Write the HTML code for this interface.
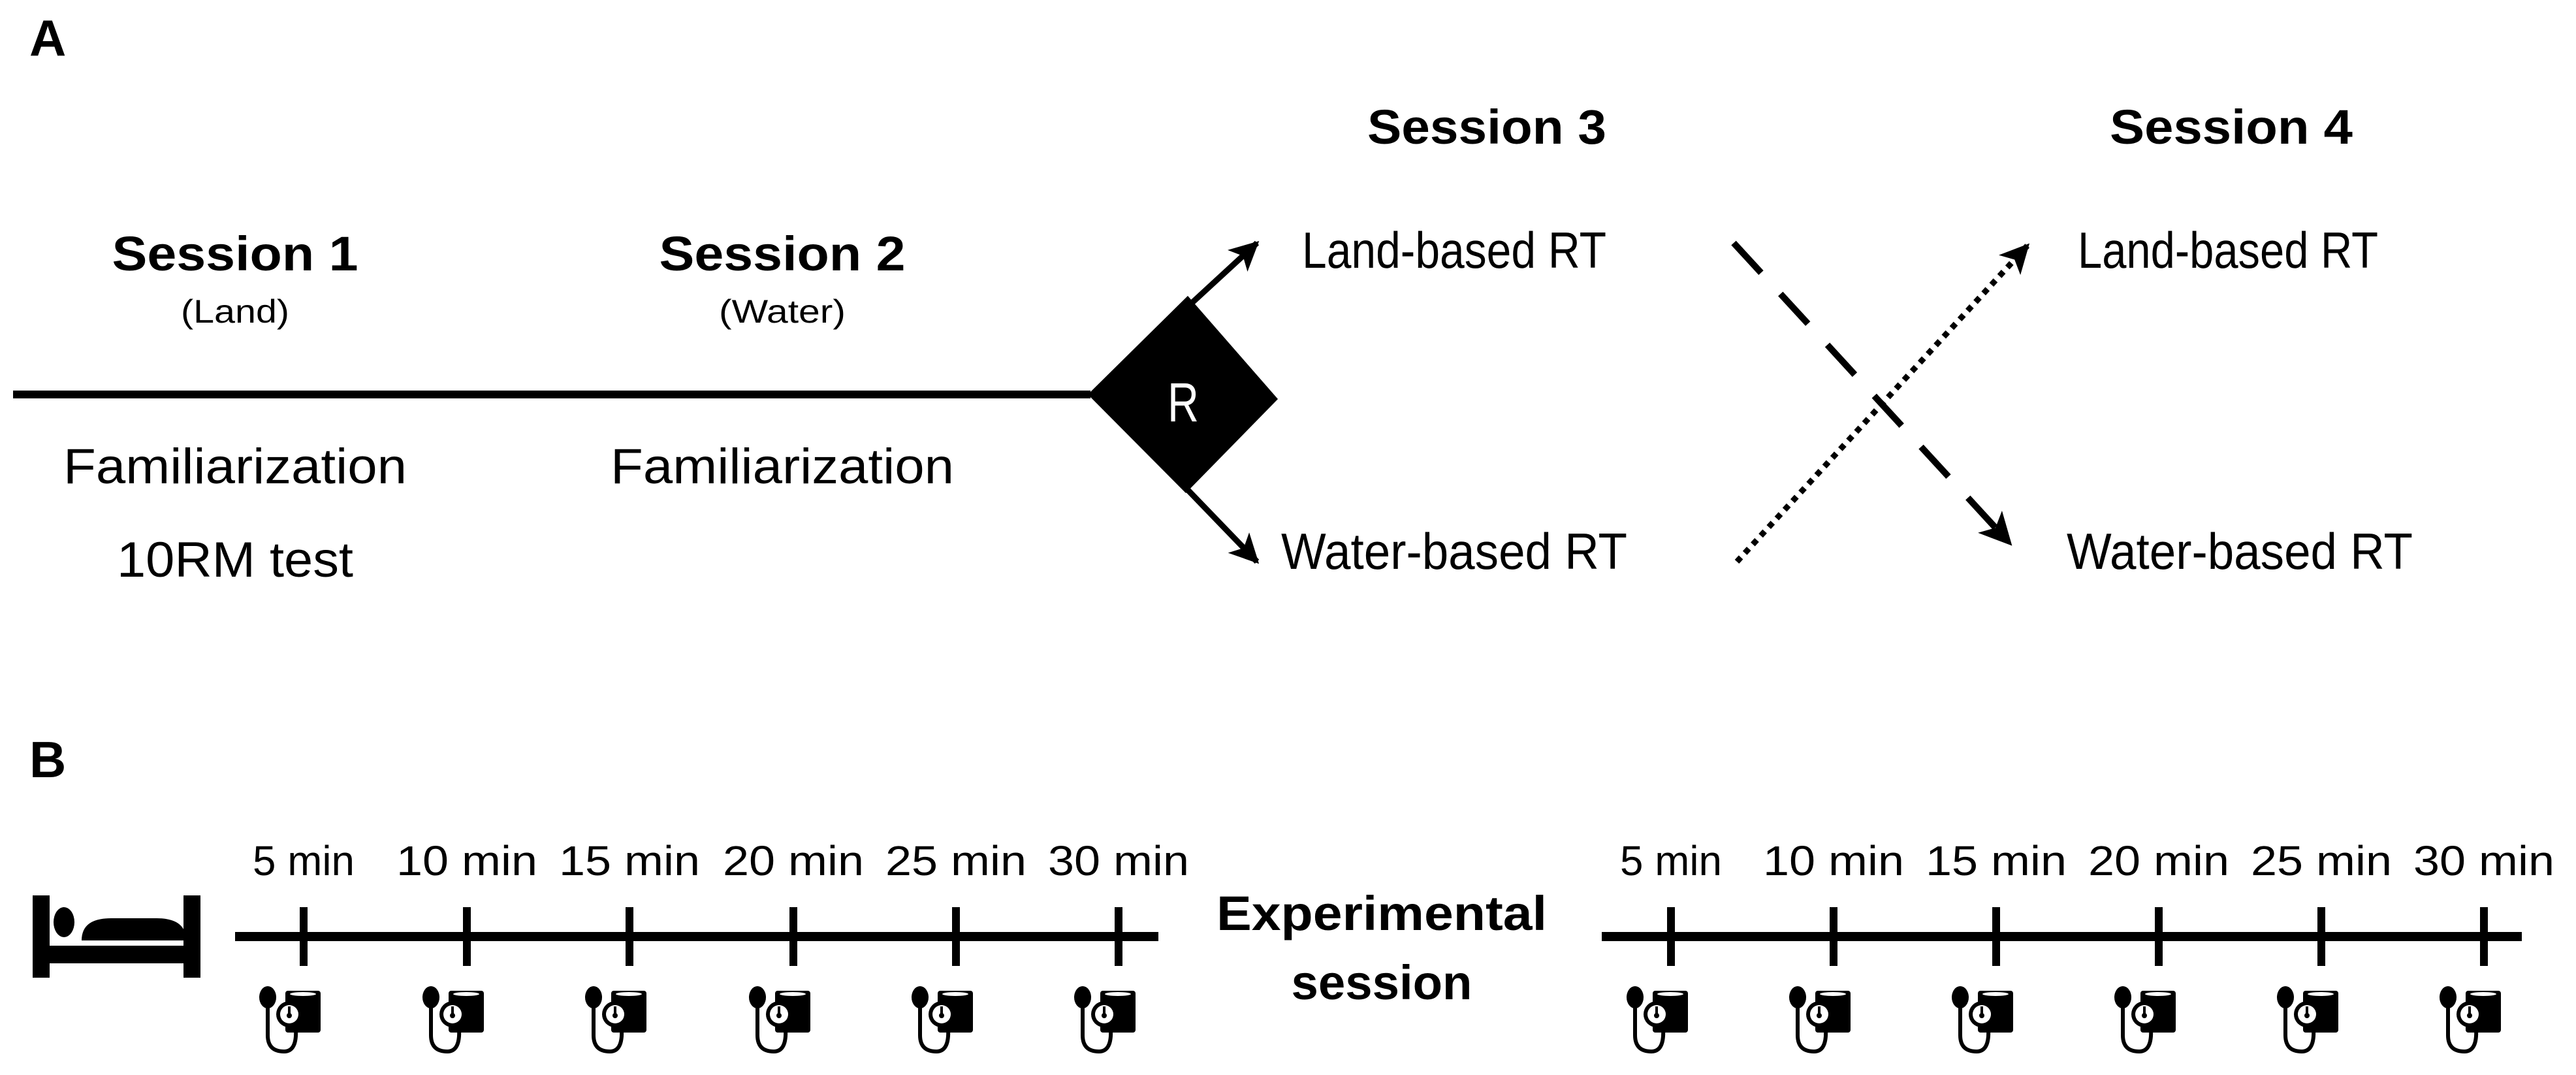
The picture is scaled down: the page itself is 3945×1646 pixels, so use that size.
<!DOCTYPE html>
<html><head><meta charset="utf-8"><style>
html,body{margin:0;padding:0;background:#fff}
svg{display:block}
text{font-family:"Liberation Sans",Arial,sans-serif;fill:#000}
</style></head><body>
<svg width="3945" height="1646" viewBox="0 0 3945 1646" xmlns="http://www.w3.org/2000/svg">
<defs>
<marker id="ah" viewBox="0 0 10 10" refX="9" refY="5" markerWidth="5" markerHeight="5" orient="auto" markerUnits="strokeWidth">
<path d="M0,0 L10,5 L0,10 L2.5,5 z" fill="#000"/>
</marker>
<g id="bp">
<path d="M-55,1535 L-55,1585 Q-55,1610 -30,1610 Q-10,1610 -12,1575" fill="none" stroke="#000" stroke-width="6"/>
<ellipse cx="-55" cy="1527" rx="13" ry="17" fill="#000"/>
<rect x="-28" y="1517" width="54" height="64" rx="4" fill="#000"/>
<ellipse cx="-1" cy="1522" rx="20" ry="3" fill="#fff"/>
<circle cx="-22" cy="1553" r="20" fill="#000"/>
<circle cx="-22" cy="1553" r="14" fill="#fff"/>
<rect x="-24" y="1541" width="4" height="14" fill="#000"/>
<circle cx="-22" cy="1555" r="4" fill="#000"/>
</g>
</defs>

<text x="45" y="85" font-size="78" font-weight="bold">A</text>
<text x="45" y="1190" font-size="78" font-weight="bold">B</text>

<g text-anchor="middle">
<text x="360" y="414" font-size="74" font-weight="bold" textLength="377" lengthAdjust="spacingAndGlyphs">Session 1</text>
<text x="360" y="494" font-size="50" textLength="166" lengthAdjust="spacingAndGlyphs">(Land)</text>
<text x="1198" y="414" font-size="74" font-weight="bold" textLength="377" lengthAdjust="spacingAndGlyphs">Session 2</text>
<text x="1198" y="494" font-size="50" textLength="194" lengthAdjust="spacingAndGlyphs">(Water)</text>
<text x="360" y="740" font-size="76" textLength="526" lengthAdjust="spacingAndGlyphs">Familiarization</text>
<text x="360" y="883" font-size="76" textLength="362" lengthAdjust="spacingAndGlyphs">10RM test</text>
<text x="1198" y="740" font-size="76" textLength="526" lengthAdjust="spacingAndGlyphs">Familiarization</text>
<text x="2277" y="220" font-size="74" font-weight="bold" textLength="366" lengthAdjust="spacingAndGlyphs">Session 3</text>
<text x="3417" y="220" font-size="74" font-weight="bold" textLength="372" lengthAdjust="spacingAndGlyphs">Session 4</text>
<text x="2227" y="410" font-size="78" textLength="466" lengthAdjust="spacingAndGlyphs">Land-based RT</text>
<text x="2227" y="871" font-size="78" textLength="530" lengthAdjust="spacingAndGlyphs">Water-based RT</text>
<text x="3412" y="410" font-size="78" textLength="460" lengthAdjust="spacingAndGlyphs">Land-based RT</text>
<text x="3430" y="871" font-size="78" textLength="530" lengthAdjust="spacingAndGlyphs">Water-based RT</text>
<text x="2116" y="1424" font-size="74" font-weight="bold" textLength="506" lengthAdjust="spacingAndGlyphs">Experimental</text>
<text x="2116" y="1530" font-size="74" font-weight="bold" textLength="277" lengthAdjust="spacingAndGlyphs">session</text>
</g>

<line x1="20" y1="604" x2="1670" y2="604" stroke="#000" stroke-width="12"/>
<polygon points="1666,604 1819,453 1957,611 1816,755" fill="#000"/>
<text x="1812" y="645" font-size="84" style="fill:#fff" text-anchor="middle" textLength="48" lengthAdjust="spacingAndGlyphs">R</text>
<line x1="1824" y1="465" x2="1925" y2="372" stroke="#000" stroke-width="9" marker-end="url(#ah)"/>
<line x1="1816" y1="747" x2="1925" y2="860" stroke="#000" stroke-width="9" marker-end="url(#ah)"/>
<line x1="2655" y1="372" x2="3078" y2="832" stroke="#000" stroke-width="10" stroke-dasharray="62,44" marker-end="url(#ah)"/>
<line x1="2660" y1="860" x2="3105" y2="376" stroke="#000" stroke-width="9" stroke-dasharray="9,9" marker-end="url(#ah)"/>

<rect x="50" y="1371" width="26" height="126" fill="#000"/>
<rect x="281" y="1371" width="26" height="126" fill="#000"/>
<rect x="50" y="1448" width="257" height="27" fill="#000"/>
<ellipse cx="98" cy="1412" rx="16" ry="23" fill="#000"/>
<path d="M125,1440 Q125,1406 170,1406 L240,1406 Q285,1406 285,1440 z" fill="#000"/>

<line x1="360" y1="1434" x2="1774" y2="1434" stroke="#000" stroke-width="14"/>
<line x1="2453" y1="1434" x2="3862" y2="1434" stroke="#000" stroke-width="14"/>
<g stroke="#000" stroke-width="12">
<line x1="465" y1="1389" x2="465" y2="1479"/><line x1="715" y1="1389" x2="715" y2="1479"/>
<line x1="964" y1="1389" x2="964" y2="1479"/><line x1="1215" y1="1389" x2="1215" y2="1479"/>
<line x1="1464" y1="1389" x2="1464" y2="1479"/><line x1="1713" y1="1389" x2="1713" y2="1479"/>
<line x1="2559" y1="1389" x2="2559" y2="1479"/><line x1="2808" y1="1389" x2="2808" y2="1479"/>
<line x1="3057" y1="1389" x2="3057" y2="1479"/><line x1="3306" y1="1389" x2="3306" y2="1479"/>
<line x1="3555" y1="1389" x2="3555" y2="1479"/><line x1="3804" y1="1389" x2="3804" y2="1479"/>
</g>
<g text-anchor="middle" font-size="64">
<text x="465" y="1340" textLength="156" lengthAdjust="spacingAndGlyphs">5 min</text><text x="715" y="1340" textLength="216" lengthAdjust="spacingAndGlyphs">10 min</text>
<text x="964" y="1340" textLength="216" lengthAdjust="spacingAndGlyphs">15 min</text><text x="1215" y="1340" textLength="216" lengthAdjust="spacingAndGlyphs">20 min</text>
<text x="1464" y="1340" textLength="216" lengthAdjust="spacingAndGlyphs">25 min</text><text x="1713" y="1340" textLength="216" lengthAdjust="spacingAndGlyphs">30 min</text>
<text x="2559" y="1340" textLength="156" lengthAdjust="spacingAndGlyphs">5 min</text><text x="2808" y="1340" textLength="216" lengthAdjust="spacingAndGlyphs">10 min</text>
<text x="3057" y="1340" textLength="216" lengthAdjust="spacingAndGlyphs">15 min</text><text x="3306" y="1340" textLength="216" lengthAdjust="spacingAndGlyphs">20 min</text>
<text x="3555" y="1340" textLength="216" lengthAdjust="spacingAndGlyphs">25 min</text><text x="3804" y="1340" textLength="216" lengthAdjust="spacingAndGlyphs">30 min</text>
</g>
<use href="#bp" x="465"/><use href="#bp" x="715"/><use href="#bp" x="964"/>
<use href="#bp" x="1215"/><use href="#bp" x="1464"/><use href="#bp" x="1713"/>
<use href="#bp" x="2559"/><use href="#bp" x="2808"/><use href="#bp" x="3057"/>
<use href="#bp" x="3306"/><use href="#bp" x="3555"/><use href="#bp" x="3804"/>
</svg>
</body></html>
